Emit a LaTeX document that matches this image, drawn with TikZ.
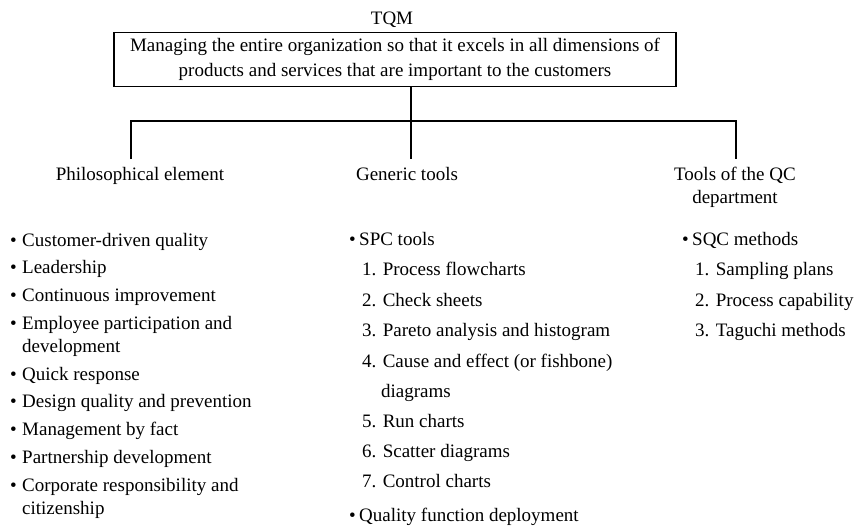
\documentclass[tikz,border=0pt]{standalone}
\usepackage{fontspec}
\setmainfont{Liberation Serif}
\begin{document}
\begin{tikzpicture}[x=1pt,y=-1pt,
  every node/.style={font=\fontsize{19}{23}\selectfont, inner sep=0pt},
  item/.style={anchor=base west},
  head/.style={anchor=base, align=center},
  link/.style={line width=1.1pt},
  frame/.style={draw, line width=1.5pt, minimum width=562pt, minimum height=54pt,
    align=center, anchor=north, font=\fontsize{19}{25}\selectfont}]
\newcommand{\bul}[1]{\makebox[#1][l]{\textbullet}}
\useasboundingbox (0,0) rectangle (855,527);

% top: title and definition box
\node[anchor=base] (tqm) at (392,25) {TQM};
\node[frame] (box) at (395,32) {Managing the entire organization so that it excels in all dimensions of\\products and services that are important to the customers};

% tree connectors
\coordinate (j)  at (411,121);
\coordinate (jl) at (131,121);
\coordinate (jr) at (736,121);
\coordinate (el) at (131,159);
\coordinate (em) at (411,159);
\coordinate (er) at (736,159);
\draw[link] (box.south -| j) -- (j);
\draw[link] (el) -- (jl) -- (jr) -- (er);
\draw[link] (j) -- (em);

% column headings
\node[head] (phil) at (140,180) {Philosophical element};
\node[head] (gen)  at (407,180) {Generic tools};
\node[head] (qc)   at (735,203) {Tools of the QC\\department};

% philosophical elements
\node[item] (p1) at (10,246) {\bul{12pt}Customer-driven quality};
\node[item] (p2) at (10,273) {\bul{12pt}Leadership};
\node[item] (p3) at (10,301) {\bul{12pt}Continuous improvement};
\node[item] (p4) at (10,329) {\bul{12pt}Employee participation and};
\node[item] (p4b) at (22,352) {development};
\node[item] (p5) at (10,380) {\bul{12pt}Quick response};
\node[item] (p6) at (10,407) {\bul{12pt}Design quality and prevention};
\node[item] (p7) at (10,435) {\bul{12pt}Management by fact};
\node[item] (p8) at (10,463) {\bul{12pt}Partnership development};
\node[item] (p9) at (10,491) {\bul{12pt}Corporate responsibility and};
\node[item] (p9b) at (22,514) {citizenship};

% generic tools
\node[item] (g0) at (349,245) {\bul{10pt}SPC tools};
\node[item] (g1) at (362,275.5) {1. Process flowcharts};
\node[item] (g2) at (362,306) {2. Check sheets};
\node[item] (g3) at (362,336.5) {3. Pareto analysis and histogram};
\node[item] (g4) at (362,367) {4. Cause and effect (or fishbone)};
\node[item] (g4b) at (381,397) {diagrams};
\node[item] (g5) at (362,427) {5. Run charts};
\node[item] (g6) at (362,457) {6. Scatter diagrams};
\node[item] (g7) at (362,487) {7. Control charts};
\node[item] (g8) at (349,521) {\bul{10pt}Quality function deployment};

% QC department tools
\node[item] (q0) at (682,245) {\bul{10pt}SQC methods};
\node[item] (q1) at (695,275.5) {1. Sampling plans};
\node[item] (q2) at (695,306) {2. Process capability};
\node[item] (q3) at (695,336.5) {3. Taguchi methods};
\end{tikzpicture}
\end{document}
